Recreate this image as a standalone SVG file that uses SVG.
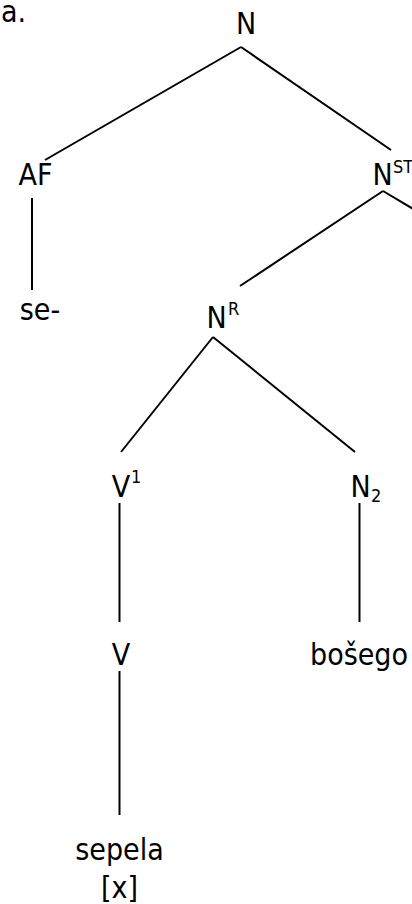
<svg xmlns="http://www.w3.org/2000/svg" width="412" height="904" viewBox="0 0 412 904">
<style>
text{font-family:"DejaVu Sans","Noto Sans",sans-serif;font-stretch:condensed;fill:#000}
.m{font-size:30px;text-anchor:middle}
.l{font-size:30px}
.s{font-size:18px}
.e line{stroke:#000;stroke-width:2;stroke-linecap:butt}
</style>
<rect width="412" height="904" fill="#fff"/>
<g id="label-a"><text class="l" x="1" y="22">a.</text></g>
<g id="n-root"><text class="m" x="246" y="34">N</text></g>
<g id="n-af"><text class="m" x="35.5" y="185">AF</text></g>
<g id="n-nst"><text class="m" x="382.5" y="185">N</text><text class="s" x="393" y="173">ST</text></g>
<g id="n-se"><text class="m" x="40" y="320">se-</text></g>
<g id="n-nr"><text class="m" x="216.5" y="328">N</text><text class="s" x="228" y="315">R</text></g>
<g id="n-v1"><text class="m" x="121" y="497">V</text><text class="s" x="131" y="483">1</text></g>
<g id="n-n2"><text class="m" x="360.7" y="497">N</text><text class="s" x="371" y="502">2</text></g>
<g id="n-v"><text class="m" x="121" y="665">V</text></g>
<g id="n-bosego"><text class="m" x="359" y="665">bošego</text></g>
<g id="n-sepela"><text class="m" x="119.5" y="860">sepela</text><text class="m" x="119.5" y="898">[x]</text></g>
<g id="edges" class="e">
<line x1="241" y1="47" x2="45" y2="160"/>
<line x1="241" y1="47" x2="391" y2="150"/>
<line x1="32" y1="198" x2="32" y2="290"/>
<line x1="383" y1="191" x2="240" y2="286"/>
<line x1="383" y1="191" x2="430" y2="219"/>
<line x1="213" y1="337" x2="121" y2="452"/>
<line x1="213" y1="337" x2="355" y2="452"/>
<line x1="119.5" y1="503" x2="119.5" y2="622"/>
<line x1="359.5" y1="503" x2="359.5" y2="622"/>
<line x1="119.5" y1="671" x2="119.5" y2="815"/>
</g>
</svg>
